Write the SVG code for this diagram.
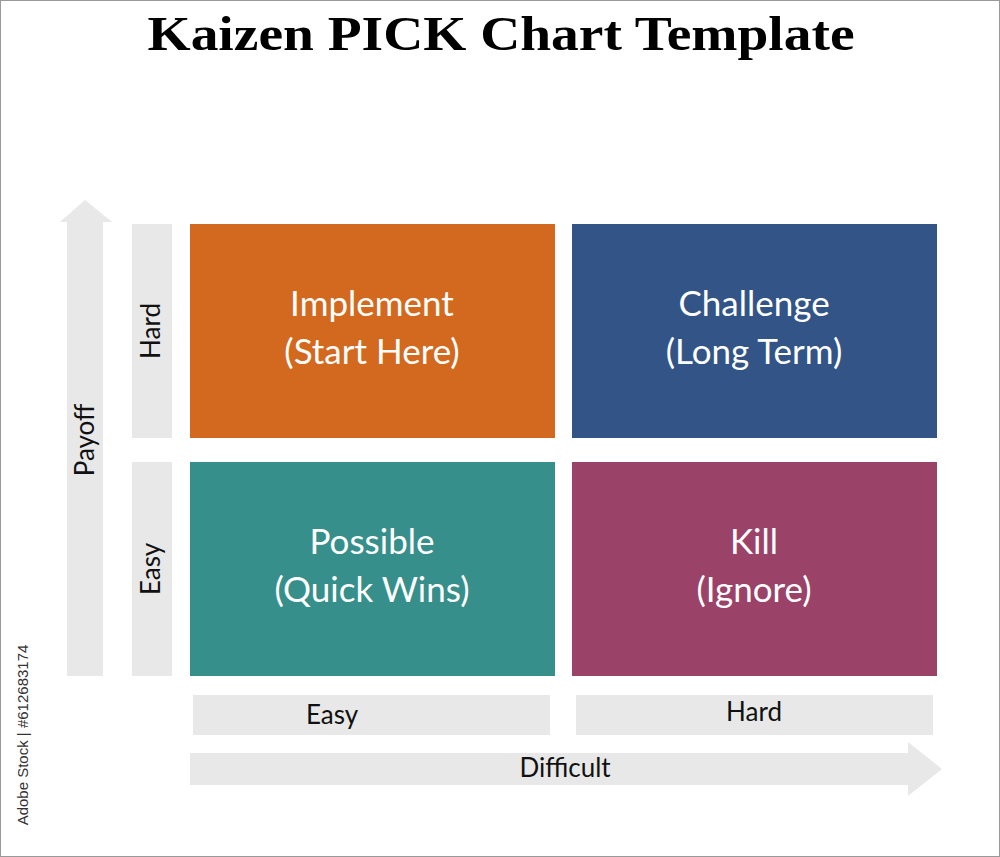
<svg xmlns="http://www.w3.org/2000/svg" width="1000" height="857" viewBox="0 0 1000 857">
<style>
.bar{fill:#e8e8e8}
.bt{font-family:Lato,"Open Sans",sans-serif;font-size:35px;fill:#fff;text-anchor:middle}
.lt{font-family:Lato,"Open Sans",sans-serif;font-size:26px;fill:#111;text-anchor:middle}
</style>
<rect x="0.5" y="0.5" width="999" height="856" fill="#fff" stroke="#999"/>
<text x="501" y="50" font-family="Liberation Serif,serif" font-weight="bold" font-size="48" text-anchor="middle" textLength="707" lengthAdjust="spacingAndGlyphs" fill="#000">Kaizen PICK Chart Template</text>
<g id="connectors">
<path class="bar" d="M67 222 H60 L85 200 L112 222 H103 V676 H67 Z"/>
<path class="bar" d="M190 753 H908 V742 L942 769 L908 796 V785 H190 Z"/>
</g>
<text class="lt" transform="translate(94 440) rotate(-90)">Payoff</text>
<text class="lt" transform="translate(565 777)">Difficult</text>
<g id="y-hard"><rect class="bar" x="132" y="224" width="40" height="214"/><text class="lt" transform="translate(160 331) rotate(-90)">Hard</text></g>
<g id="y-easy"><rect class="bar" x="132" y="462" width="40" height="214"/><text class="lt" transform="translate(160 569) rotate(-90)">Easy</text></g>
<g id="x-easy"><rect class="bar" x="193" y="695" width="357" height="40"/><text class="lt" x="332" y="724">Easy</text></g>
<g id="x-hard"><rect class="bar" x="576" y="695" width="357" height="40"/><text class="lt" x="754" y="721">Hard</text></g>
<g id="implement"><rect x="190" y="224" width="365" height="214" fill="#D3691E"/><text class="bt" x="372" y="316">Implement</text><text class="bt" x="372" y="364">(Start Here)</text></g>
<g id="challenge"><rect x="572" y="224" width="365" height="214" fill="#325487"/><text class="bt" x="754" y="316">Challenge</text><text class="bt" x="754" y="364">(Long Term)</text></g>
<g id="possible"><rect x="190" y="462" width="365" height="214" fill="#368F8A"/><text class="bt" x="372" y="554">Possible</text><text class="bt" x="372" y="602">(Quick Wins)</text></g>
<g id="kill"><rect x="572" y="462" width="365" height="214" fill="#9A4268"/><text class="bt" x="754" y="554">Kill</text><text class="bt" x="754" y="602">(Ignore)</text></g>
<text transform="translate(28 735) rotate(-90)" font-family="Liberation Sans,sans-serif" font-size="15" fill="#333" text-anchor="middle">Adobe Stock | #612683174</text>
</svg>
